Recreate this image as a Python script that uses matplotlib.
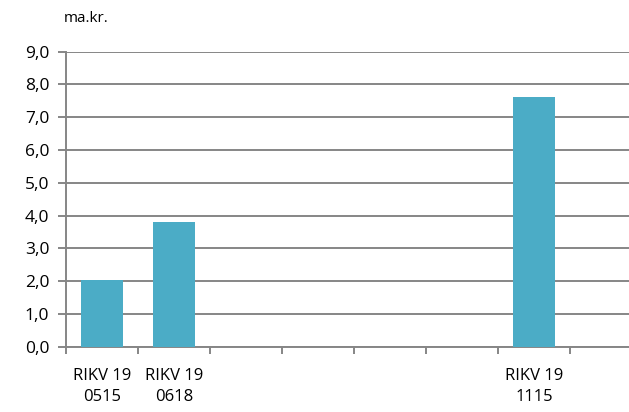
import matplotlib
matplotlib.use("Agg")
from matplotlib import pyplot as plt
import numpy as np

categories = ["RIKV 19\n0515", "RIKV 19\n0618", "", "", "", "", "RIKV 19\n1115"]
values = [2.03, 3.80, 0, 0, 0, 0, 7.62]
yticks = [0, 1, 2, 3, 4, 5, 6, 7, 8, 9]

plt.rcParams['font.family'] = ['Open Sans', 'DejaVu Sans']

fig = plt.figure(figsize=(6.29, 4.12), dpi=100)
ax = fig.add_axes([66 / 629, 1 - 346.7 / 412, 1 - 66 / 629, (346.7 - 51.7) / 412])

grid_col = '#868686'
x = np.arange(len(categories))
heights = [v if v > 0 else np.nan for v in values]
ax.bar(x, heights, width=0.58, color='#4BACC6', zorder=3)

ax.set_ylim(0, 9)
ax.set_xlim(-0.5, 7.32)
ax.set_yticks(yticks)
ax.set_yticklabels([f"{v:.1f}".replace('.', ',') for v in yticks], fontsize=12.5)
ax.yaxis.grid(True, color=grid_col, linewidth=1.4, zorder=0)

ax.set_xticks(x)
ax.set_xticklabels(categories, fontsize=12, linespacing=1.45)
ax.tick_params(axis='x', which='major', length=0, pad=15)
ax.set_xticks(np.arange(-0.5, 7.0, 1.0), minor=True)
ax.tick_params(axis='x', which='minor', length=5, width=1.4, color=grid_col)
ax.tick_params(axis='y', length=6, width=1.4, color=grid_col, pad=6)

for s in ['top', 'right']:
    ax.spines[s].set_visible(False)
for s in ['left', 'bottom']:
    ax.spines[s].set_color(grid_col)
    ax.spines[s].set_linewidth(1.4)

fig.text(86 / 629, 1 - 18 / 412, "ma.kr.", fontsize=11, ha='center', va='center')

fig.savefig("out.png", dpi=100)
